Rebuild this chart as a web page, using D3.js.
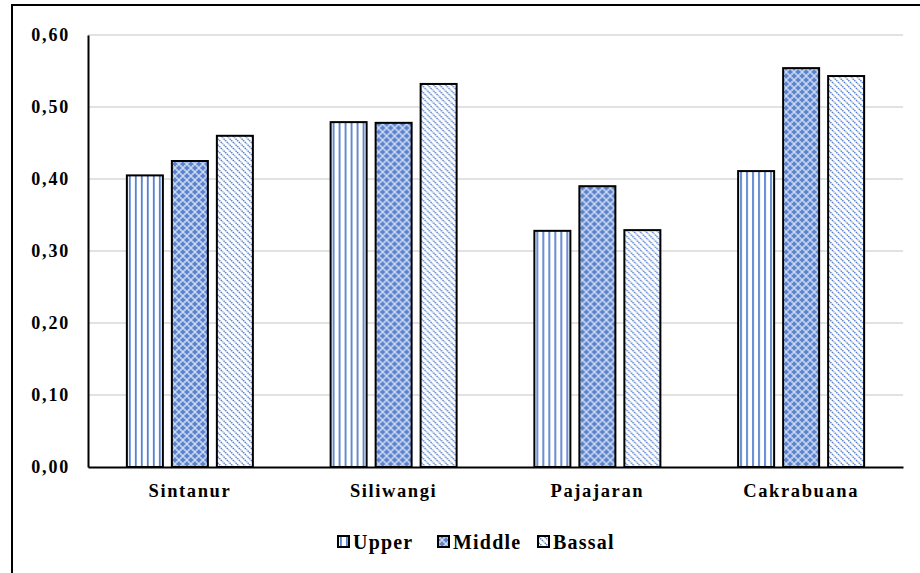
<!DOCTYPE html>
<html><head><meta charset="utf-8">
<script src="https://cdn.jsdelivr.net/npm/d3@7"></script>
<style>body{margin:0;background:#fff;}svg{display:block;}
.lbl{font-family:"Liberation Serif","Times New Roman",Tinos,"DejaVu Serif",serif;font-weight:bold;fill:#000;}
</style>
</head><body>
<script>
const categories = ["Sintanur", "Siliwangi", "Pajajaran", "Cakrabuana"];
const seriesNames = ["Upper", "Middle", "Bassal"];
const upper  = [0.405, 0.479, 0.328, 0.411];
const middle = [0.425, 0.478, 0.390, 0.554];
const bassal = [0.460, 0.532, 0.329, 0.543];
const yTicks = [0, 0.1, 0.2, 0.3, 0.4, 0.5, 0.6];

(function(){
const W = 920, H = 573;
const svg = d3.select("body").append("svg").attr("width", W).attr("height", H);
const defs = svg.append("defs");
const blue = "#4472C4";

// Upper: vertical stripes
const pU = defs.append("pattern").attr("id", "pUpper").attr("patternUnits", "userSpaceOnUse")
  .attr("width", 6).attr("height", 6);
pU.append("rect").attr("width", 6).attr("height", 6).attr("fill", "#fff");
pU.append("rect").attr("x", 2).attr("width", 1.8).attr("height", 6).attr("fill", "#5580cc");

// Middle: blue with light dotted diamonds
const pM = defs.append("pattern").attr("id", "pMiddle").attr("patternUnits", "userSpaceOnUse")
  .attr("width", 8).attr("height", 8);
pM.append("rect").attr("width", 8).attr("height", 8).attr("fill", "#5a82cd");
[[2,2],[6,6],[2,6],[6,2]].forEach(([cx,cy]) => {
  pM.append("rect").attr("x", cx-0.8).attr("y", cy-0.8).attr("width", 1.6).attr("height", 1.6).attr("fill", "#e8eef9");
});
[[4,4],[0,0],[8,8],[8,0],[0,8]].forEach(([cx,cy]) => {
  pM.append("circle").attr("cx", cx).attr("cy", cy).attr("r", 1.7).attr("fill", "#d0dcf2");
});

// Bassal: diagonal "\" lines
const pB = defs.append("pattern").attr("id", "pBassal").attr("patternUnits", "userSpaceOnUse")
  .attr("width", 6).attr("height", 6);
pB.append("rect").attr("width", 6).attr("height", 6).attr("fill", "#fff");
pB.append("path").attr("d", "M-1,-1 L7,7 M-1,5 L1,7 M5,-1 L7,1")
  .attr("stroke", blue).attr("stroke-width", 1.4).attr("stroke-dasharray", "1.5,0.8");

const fills = ["url(#pUpper)", "url(#pMiddle)", "url(#pBassal)"];
const seriesData = [upper, middle, bassal];

// Outer border
svg.append("rect").attr("x", 12).attr("y", 5).attr("width", W).attr("height", H + 20)
  .attr("fill", "none").attr("stroke", "#000").attr("stroke-width", 2);

const mLeft = 88, mRight = 903, mTop = 35, mBottom = 467;
const x = d3.scaleBand().domain(categories).range([mLeft, mRight]);
const xs = d3.scaleBand().domain(seriesNames).range([0, 126]).paddingInner(0.2).paddingOuter(0);
const y = d3.scaleLinear().domain([0, 0.6]).range([mBottom, mTop]);

// gridlines
svg.append("g").selectAll("line").data(yTicks.slice(1)).join("line")
  .attr("x1", mLeft).attr("x2", mRight)
  .attr("y1", d => y(d)).attr("y2", d => y(d))
  .attr("stroke", "#d9d9d9").attr("stroke-width", 1.5);

// bars
const groups = svg.append("g").selectAll("g").data(categories).join("g")
  .attr("transform", c => `translate(${x(c) + x.bandwidth()/2 - 63},0)`);
groups.selectAll("rect").data((c, i) => seriesNames.map((s, j) => ({s, j, v: seriesData[j][i]})))
  .join("rect")
  .attr("x", d => xs(d.s)).attr("width", xs.bandwidth())
  .attr("y", d => y(d.v)).attr("height", d => mBottom - y(d.v))
  .attr("fill", d => fills[d.j]).attr("stroke", "#000").attr("stroke-width", 2);

// axes
const yAxis = svg.append("g").attr("transform", `translate(${mLeft},0)`)
  .call(d3.axisLeft(y).tickValues(yTicks).tickSize(0).tickPadding(18)
    .tickFormat(d => d3.format(".2f")(d).replace(".", ",")));
yAxis.attr("font-family", null);
yAxis.select(".domain").attr("stroke", "#000").attr("stroke-width", 2);
yAxis.selectAll("text").attr("class", "lbl").style("font-size", "18px").style("letter-spacing", "1.8px");

const xAxis = svg.append("g").attr("transform", `translate(0,${mBottom})`)
  .call(d3.axisBottom(x).tickSize(0).tickPadding(17));
xAxis.attr("font-family", null);
xAxis.select(".domain").attr("stroke", "#000").attr("stroke-width", 2);
xAxis.selectAll("text").attr("class", "lbl").style("font-size", "18.5px").style("letter-spacing", "1.6px");

// legend
const legX = [338, 438, 538];
const leg = svg.append("g").selectAll("g").data(seriesNames).join("g")
  .attr("transform", (d, i) => `translate(${legX[i]},536)`);
leg.append("rect").attr("width", 11).attr("height", 11)
  .attr("fill", (d, i) => fills[i]).attr("stroke", "#000").attr("stroke-width", 2);
leg.append("text").attr("x", 15).attr("y", 12.5).text(d => d)
  .attr("class", "lbl").style("font-size", "20px").style("letter-spacing", "1.2px");
})();
</script>
</body></html>
